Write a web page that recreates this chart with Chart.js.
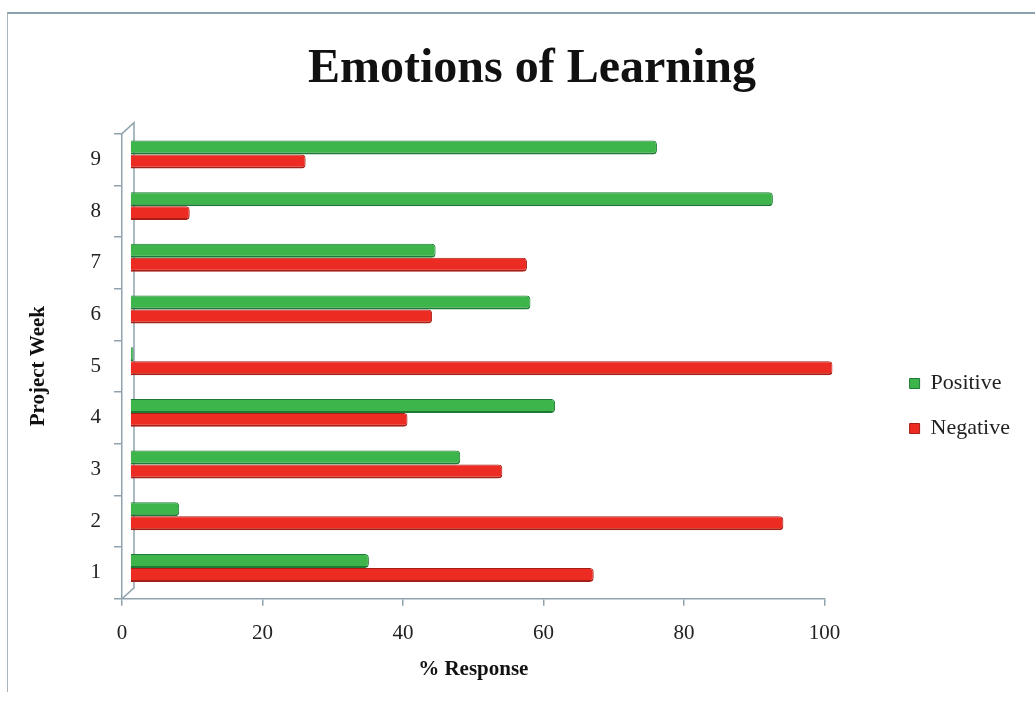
<!DOCTYPE html>
<html lang="en">
<head>
<meta charset="utf-8" />
<title>Emotions of Learning</title>
<style>
  html, body { margin: 0; padding: 0; background: #fff; }
  #wrap { position: relative; width: 1035px; height: 713px; overflow: hidden; }
  #frame { position: absolute; left: 7px; top: 12px; width: 1100px; height: 678px;
           border-top: 2px solid #8aa0ac; border-left: 1px solid #a9b5bb; }
  canvas { position: absolute; left: 0; top: 0; }
</style>
</head>
<body>
<div id="wrap">
  <div id="frame"></div>
  <canvas id="chart" width="1035" height="713"></canvas>
</div>
<script src="https://cdn.jsdelivr.net/npm/chart.js@4.4.1/dist/chart.umd.min.js"></script>
<script>
// values, weeks 1..9
const weeks = ["1", "2", "3", "4", "5", "6", "7", "8", "9"];
const positive = [34, 7, 47, 60.5, 0.5, 57, 43.5, 91.5, 75];
const negative = [66, 93, 53, 39.5, 100, 43, 56.5, 8.5, 25];
const xTicks = [0, 20, 40, 60, 80, 100];

const SERIF = "'Liberation Serif', 'Times New Roman', serif";
const AXIS = "#8fa3ae";
const DEPTH = { x: 12, y: -11 };          // back wall of the 3D plot
const BAR_SHIFT = { x: 8, y: -5 };        // bars sit half way into the depth
const LEGEND_SHIFT = { x: 62, y: 66 };
const TITLE_SHIFT = 43;

const depth3d = {
  id: "depth3d",
  afterLayout(chart) {
    const lg = chart.legend;
    if (lg) {
      lg.left += LEGEND_SHIFT.x; lg.right += LEGEND_SHIFT.x;
      lg.top += LEGEND_SHIFT.y; lg.bottom += LEGEND_SHIFT.y;
    }
    const tb = chart.titleBlock;
    if (tb) { tb.left += TITLE_SHIFT; tb.right += TITLE_SHIFT; }
  },
  beforeDatasetsDraw(chart) {
    const { ctx, chartArea: a } = chart;
    ctx.save();
    ctx.strokeStyle = AXIS;
    ctx.lineWidth = 1.5;
    ctx.beginPath();
    ctx.moveTo(a.left, a.top);
    ctx.lineTo(a.left + DEPTH.x, a.top + DEPTH.y);
    ctx.lineTo(a.left + DEPTH.x, a.bottom + DEPTH.y);
    ctx.lineTo(a.left, a.bottom);
    ctx.stroke();
    ctx.restore();
    ctx.save();
    ctx.translate(BAR_SHIFT.x, BAR_SHIFT.y);
  },
  afterDatasetsDraw(chart) {
    chart.ctx.restore();
  }
};

new Chart(document.getElementById("chart"), {
  type: "bar",
  data: {
    labels: weeks,
    datasets: [
      {
        label: "Positive",
        data: positive,
        backgroundColor: "#3db54a",
        borderColor: "#1c7a35",
        borderWidth: { top: 1, right: 1, bottom: 2, left: 0 },
        borderSkipped: "start",
        borderRadius: 4
      },
      {
        label: "Negative",
        data: negative,
        backgroundColor: "#ec2b22",
        borderColor: "#a51f16",
        borderWidth: { top: 1, right: 1, bottom: 2, left: 0 },
        borderSkipped: "start",
        borderRadius: 4
      }
    ]
  },
  options: {
    indexAxis: "y",
    responsive: false,
    animation: false,
    barPercentage: 1,
    categoryPercentage: 0.54,
    layout: { padding: { left: 20, right: 77, top: 0, bottom: 33 } },
    plugins: {
      title: {
        display: true,
        text: "Emotions of Learning",
        color: "#111",
        font: { family: SERIF, size: 48, weight: "bold" },
        padding: { top: 41, bottom: 35 }
      },
      legend: {
        position: "right",
        labels: {
          color: "#222",
          font: { family: SERIF, size: 22 },
          boxWidth: 10,
          boxHeight: 10,
          padding: 23
        }
      },
      tooltip: { enabled: false }
    },
    scales: {
      x: {
        min: 0,
        max: 100,
        afterBuildTicks(scale) { scale.ticks = xTicks.map(v => ({ value: v })); },
        ticks: { color: "#222", font: { family: SERIF, size: 21 }, padding: 15 },
        grid: { drawOnChartArea: false, tickLength: 7, color: AXIS, lineWidth: 1.5 },
        border: { color: AXIS, width: 1.5 },
        title: {
          display: true,
          text: "% Response",
          color: "#111",
          font: { family: SERIF, size: 21, weight: "bold", lineHeight: 1 },
          padding: { top: -2, bottom: 0 }
        }
      },
      y: {
        reverse: true,
        afterFit(scale) { scale.width = 102; },
        ticks: { color: "#222", font: { family: SERIF, size: 21 }, padding: 13 },
        grid: { drawOnChartArea: false, tickLength: 8, color: AXIS, lineWidth: 1.5, offset: true },
        border: { color: AXIS, width: 1.5 },
        title: {
          display: true,
          text: "Project Week",
          color: "#111",
          font: { family: SERIF, size: 21, weight: "bold" },
          padding: { top: 6, bottom: 0 }
        }
      }
    }
  },
  plugins: [depth3d]
});
</script>
</body>
</html>
